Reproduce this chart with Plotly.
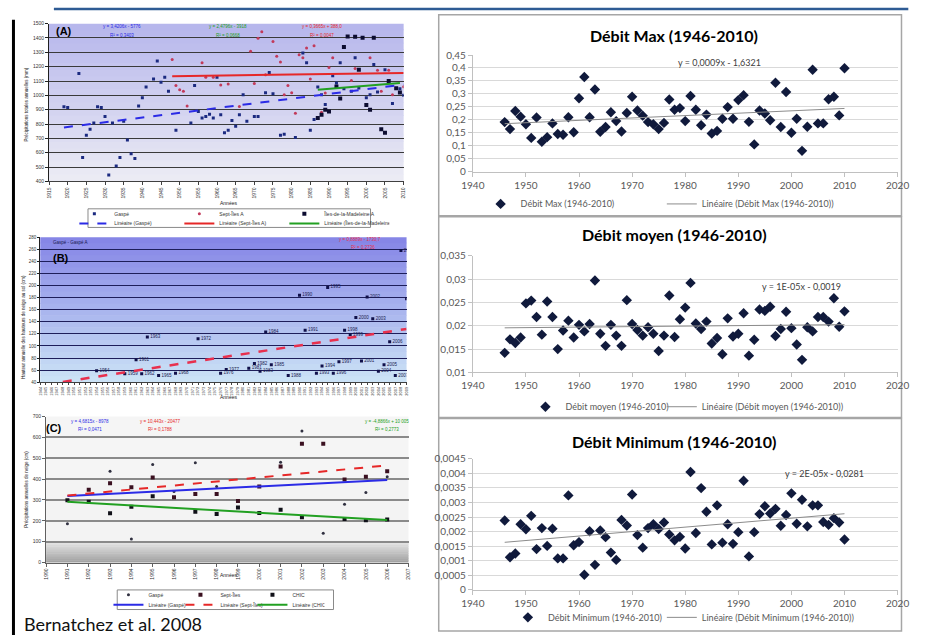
import numpy as np
import plotly.graph_objects as go

W, H = 932, 641
FONT = "Lato"
SMALL = "Liberation Sans"

# ---------------- right-hand charts (débits 1946-2010) ----------------
years = list(range(1946, 2011))
debit_max = [0.191, 0.164, 0.234, 0.212, 0.183, 0.130, 0.209, 0.115, 0.133, 0.186,
             0.145, 0.142, 0.210, 0.152, 0.283, 0.365, 0.210, 0.317, 0.154, 0.172,
             0.229, 0.195, 0.155, 0.226, 0.289, 0.236, 0.216, 0.191, 0.183, 0.164,
             0.188, 0.278, 0.239, 0.245, 0.195, 0.292, 0.239, 0.179, 0.220, 0.147,
             0.157, 0.204, 0.249, 0.204, 0.276, 0.295, 0.192, 0.105, 0.236, 0.224,
             0.198, 0.343, 0.172, 0.307, 0.150, 0.204, 0.080, 0.173, 0.393, 0.186,
             0.186, 0.279, 0.289, 0.217, 0.399]
debit_moyen = [0.0142, 0.0171, 0.0163, 0.0175, 0.0248, 0.0254, 0.0219, 0.0181, 0.0252, 0.0219,
               0.0150, 0.0190, 0.0211, 0.0175, 0.0202, 0.0188, 0.0204, 0.0297, 0.0183, 0.0157,
               0.0202, 0.0179, 0.0157, 0.0255, 0.0204, 0.0191, 0.0179, 0.0197, 0.0183, 0.0146,
               0.0179, 0.0265, 0.0176, 0.0214, 0.0239, 0.0292, 0.0205, 0.0193, 0.0209, 0.0162,
               0.0174, 0.0139, 0.0216, 0.0177, 0.0183, 0.0227, 0.0136, 0.0170, 0.0235, 0.0232,
               0.0241, 0.0178, 0.0193, 0.0230, 0.0195, 0.0160, 0.0127, 0.0197, 0.0188, 0.0219,
               0.0219, 0.0209, 0.0259, 0.0198, 0.0231]
debit_min = [0.00238, 0.00112, 0.00125, 0.00225, 0.00208, 0.00254, 0.00140, 0.00212, 0.00151, 0.00210,
             0.00108, 0.00108, 0.00324, 0.00153, 0.00164, 0.00052, 0.00201, 0.00086, 0.00204, 0.00181,
             0.00128, 0.00103, 0.00240, 0.00221, 0.00327, 0.00188, 0.00145, 0.00212, 0.00225, 0.00209,
             0.00231, 0.00190, 0.00170, 0.00182, 0.00142, 0.00404, 0.00195, 0.00349, 0.00268, 0.00156,
             0.00290, 0.00162, 0.00225, 0.00158, 0.00198, 0.00374, 0.00115, 0.00198, 0.00260, 0.00287,
             0.00262, 0.00278, 0.00220, 0.00257, 0.00331, 0.00227, 0.00309, 0.00218, 0.00290, 0.00290,
             0.00233, 0.00223, 0.00246, 0.00231, 0.00173]

x_ticks_right = [1940, 1950, 1960, 1970, 1980, 1990, 2000, 2010, 2020]
max_ticks = [0, 0.05, 0.1, 0.15, 0.2, 0.25, 0.3, 0.35, 0.4, 0.45]
max_labels = ["0", "0,05", "0,1", "0,15", "0,2", "0,25", "0,3", "0,35", "0,4", "0,45"]
moy_ticks = [0.01, 0.015, 0.02, 0.025, 0.03, 0.035]
moy_labels = ["0,01", "0,015", "0,02", "0,025", "0,03", "0,035"]
min_ticks = [0, 0.0005, 0.001, 0.0015, 0.002, 0.0025, 0.003, 0.0035, 0.004, 0.0045]
min_labels = ["0", "0,0005", "0,001", "0,0015", "0,002", "0,0025", "0,003", "0,0035", "0,004", "0,0045"]

titles_right = ["Débit Max (1946-2010)", "Débit moyen (1946-2010)", "Débit Minimum (1946-2010)"]
equations_right = ["y = 0,0009x - 1,6321", "y = 1E-05x - 0,0019", "y = 2E-05x - 0,0281"]

# ---------------- (A) annual precipitation ----------------
a_gaspe_years = [1919, 1920, 1923, 1924, 1925, 1926, 1927, 1928, 1929, 1930, 1931, 1932, 1933, 1934,
                 1935, 1936, 1937, 1938, 1939, 1940, 1941, 1943, 1944, 1945, 1946, 1947, 1949, 1953,
                 1954, 1955, 1956, 1957, 1958, 1959, 1960, 1961, 1962, 1963, 1964, 1965, 1966, 1967,
                 1968, 1970, 1971, 1973, 1974, 1975, 1977, 1978, 1981, 1983, 1984, 1985, 1986, 1987,
                 1988, 1989, 1991, 1992, 1993, 1994, 1996, 1997, 1998, 2000, 2001, 2002, 2003, 2005,
                 2007, 2009, 2010]
a_gaspe_vals = [921, 915, 1153, 566, 722, 763, 808, 921, 915, 853, 445, 808, 507, 566,
                820, 688, 593, 559, 926, 983, 1058, 1114, 1239, 1092, 1126, 1028, 756, 808,
                1069, 888, 842, 853, 869, 842, 1126, 865, 740, 756, 824, 785, 865, 1005,
                820, 853, 853, 1019, 1160, 1012, 722, 729, 706, 1296, 1228, 756, 831, 1058,
                1005, 937, 1137, 1087, 1228, 1046, 1028, 1262, 1051, 983, 1005, 1216, 1024, 1178,
                944, 1046, 1001]
a_sept_years = [1948, 1949, 1950, 1951, 1952, 1956, 1957, 1959, 1961, 1963, 1966, 1969, 1970, 1971,
                1972, 1973, 1975, 1976, 1977, 1978, 1979, 1980, 1981, 1982, 1983, 1984, 1985, 1986,
                1988, 1989, 1990, 1991, 1996, 1997, 2001, 2003, 2004, 2006, 2007, 2010]
a_sept_vals = [1250, 1069, 1039, 1028, 926, 1228, 1126, 1126, 1073, 1080, 922, 1307, 1082, 1398,
               1443, 1144, 1375, 1273, 1232, 1005, 1069, 1019, 876, 1284, 1262, 1330, 1114, 1346,
               883, 1017, 1194, 1262, 1103, 1187, 1262, 1175, 1028, 1175, 1005, 1060]
a_madel_years = [1987, 1988, 1989, 1990, 1992, 1993, 1994, 1995, 1997, 1998, 1999, 2000, 2001, 2002,
                 2004, 2005, 2006, 2008, 2009]
a_madel_vals = [842, 865, 899, 888, 1062, 978, 1337, 1411, 1409, 1178, 1402, 933, 899, 1402,
                763, 740, 1100, 1050, 1020]
a_x_ticks = list(range(1915, 2011, 5))
a_y_ticks = list(range(400, 1501, 100))
a_names = ["Gaspé", "Sept-Îles A", "Îles-de-la-Madeleine A"]
a_equations = [("y = 3,4206x - 5776", "R² = 0,3403"), ("y = 2,4796x - 3918", "R² = 0,0668"),
               ("y = 0,3665x + 388,0", "R² = 0,0047")]

# ---------------- (B) snow depth, Gaspé ----------------
b_years = [1954, 1959, 1961, 1962, 1963, 1965, 1968, 1972, 1976, 1977, 1981, 1982, 1983, 1984, 1985,
           1988, 1990, 1991, 1993, 1994, 1995, 1996, 1997, 1998, 1999, 2000, 2001, 2002, 2003, 2004,
           2005, 2006, 2007, 2008, 2009]
b_vals = [59, 54, 77, 54, 115, 51, 55, 112, 55, 61, 63, 71, 58, 123, 69,
          51, 184, 126, 55, 67, 197, 55, 74, 126, 119, 147, 75, 181, 145, 58,
          69, 107, 51, 258, 178]
b_trend_span = [1948, 2009]
b_x_ticks = list(range(1944, 2010))
b_y_ticks = list(range(40, 281, 20))

# ---------------- (C) snowfall ----------------
c_years = list(range(1991, 2007))
c_gaspe = [186, None, 437, 113, 470, 341, 478, 364, None, None, 481, 631, 140, 279, 336, 411]
c_sept = [None, 349, 380, 361, 408, 313, 329, 329, 295, 364, 460, 569, 569, 398, 411, 437]
c_chic = [298, 291, 236, 267, 318, None, 243, 233, 264, 237, 253, 217, None, 209, 202, 206]
c_x_ticks = list(range(1990, 2008))
c_y_ticks = list(range(0, 701, 100))
c_names = ["Gaspé", "Sept-Îles", "CHIC"]
c_equations = [("y = 4,6815x - 8978", "R² = 0,0471"), ("y = 10,443x - 20477", "R² = 0,1788"),
               ("y = -4,8866x + 10 005", "R² = 0,2773")]


# ---------------- helpers ----------------
def xd(l, r):
    return [l / W, r / W]


def yd(top, bottom):
    return [1 - bottom / H, 1 - top / H]


def fit(xs, ys, span=None):
    pts = [(a, b) for a, b in zip(xs, ys) if b is not None]
    xa = np.array([p[0] for p in pts], float)
    ya = np.array([p[1] for p in pts], float)
    k, c = np.polyfit(xa, ya, 1)
    sx = span if span else [xa.min(), xa.max()]
    return list(sx), [k * v + c for v in sx]


def ann(text, x, y, size, color="#000", bold=False, xanchor="center", yanchor="middle",
        angle=0, family=FONT):
    return dict(text=f"<b>{text}</b>" if bold else text, x=x / W, y=1 - y / H,
                xref="paper", yref="paper", showarrow=False, xanchor=xanchor, yanchor=yanchor,
                textangle=angle, font=dict(size=size, color=color, family=family))


def rgb(c):
    return "rgb(%d,%d,%d)" % tuple(int(round(v)) for v in c)


def gradient(n_ax, top, bot, f_from=0.0, f_to=1.0, steps=24):
    s = "" if n_ax == 1 else str(n_ax)
    out = []
    for i in range(steps):
        f0 = f_from + (f_to - f_from) * i / steps
        f1 = f_from + (f_to - f_from) * (i + 1) / steps
        t = (i + 0.5) / steps
        col = [bot[j] + (top[j] - bot[j]) * t for j in range(3)]
        out.append(dict(type="rect", xref=f"x{s} domain", yref=f"y{s} domain", x0=0, x1=1,
                        y0=f0, y1=min(f1 + 0.004, f_to), fillcolor=rgb(col), line=dict(width=0),
                        layer="below"))
    return out


def small_legend(x, y, entrywidth=None, size=9, family=FONT, color="#595959"):
    d = dict(x=x / W, y=1 - y / H, xanchor="left", yanchor="middle", orientation="h",
             font=dict(family=family, size=size, color=color), bgcolor="rgba(0,0,0,0)")
    if entrywidth:
        d.update(entrywidth=entrywidth, entrywidthmode="pixels", itemwidth=30)
    return d


fig = go.Figure()
layout_axes = {}
shapes = []
annotations = []

# ---------------- right charts ----------------
right_specs = [
    (4, debit_max, max_ticks, max_labels, [0, 0.45], (49, 168), "legend", "legend8"),
    (5, debit_moyen, moy_ticks, moy_labels, [0.01, 0.035], (254, 373), "legend2", "legend9"),
    (6, debit_min, min_ticks, min_labels, [0, 0.0045], (461, 595), "legend3", "legend10"),
]
frames = [(8, 213), (214, 419), (420, 637)]
title_y = [29, 232, 443]
eq_pos = [(726, 57), (810, 285), (834, 476)]
legend_pos = [(481, 201), (527, 408), (509, 623)]
for idx, (n, vals, tv, tt, yr, (yt, yb), lg_m, lg_l) in enumerate(right_specs):
    s = str(n)
    name = titles_right[idx]
    fig.add_trace(go.Scatter(x=years, y=vals, mode="markers", name=name, xaxis="x" + s, yaxis="y" + s,
                             marker=dict(symbol="diamond", size=8, color="#101a3c"), legend=lg_m,
                             hoverinfo="skip"))
    tx, ty = fit(years, vals)
    fig.add_trace(go.Scatter(x=tx, y=ty, mode="lines", name=f"Linéaire ({name})", xaxis="x" + s,
                             yaxis="y" + s, line=dict(color="#8c8c8c", width=1), legend=lg_l,
                             hoverinfo="skip"))
    layout_axes["xaxis" + s] = dict(domain=xd(473, 909), range=[1940, 2020], anchor="y" + s,
                                    tickvals=x_ticks_right, ticktext=[str(v) for v in x_ticks_right],
                                    showgrid=False, zeroline=False, showline=True, linecolor="#c0c0c0",
                                    ticks="outside", ticklen=4, tickcolor="#c0c0c0",
                                    tickfont=dict(family=FONT, size=10, color="#595959"))
    layout_axes["yaxis" + s] = dict(domain=yd(yt, yb), range=yr, anchor="x" + s, tickvals=tv, ticktext=tt,
                                    showgrid=True, gridcolor="#d9d9d9", gridwidth=1, zeroline=False,
                                    showline=True, linecolor="#c0c0c0", ticks="outside", ticklen=4,
                                    tickcolor="#c0c0c0",
                                    tickfont=dict(family=FONT, size=10, color="#595959"))
    f0, f1 = frames[idx]
    shapes.append(dict(type="rect", xref="paper", yref="paper", x0=438 / W, x1=913 / W,
                       y0=1 - f1 / H, y1=1 - f0 / H, line=dict(color="#a6a6a6", width=1.5),
                       fillcolor="rgba(0,0,0,0)", layer="below"))
    annotations.append(ann(name, 680, title_y[idx], 16, "#000", bold=True))
    ex, ey = eq_pos[idx]
    annotations.append(ann(equations_right[idx], ex, ey, 9, "#404040"))
    lx, ly = legend_pos[idx]
    layout_axes[lg_m] = small_legend(lx, ly)
    layout_axes[lg_l] = small_legend(667, ly)

# ---------------- chart A ----------------
a_colors = ["#1b2a80", "#c23a5a", "#0c0c30"]
a_syms = ["square", "circle", "square"]
a_sizes = [3, 3, 4]
a_trend_colors = ["#2b2be6", "#e62828", "#22a022"]
a_data = [(a_gaspe_years, a_gaspe_vals), (a_sept_years, a_sept_vals), (a_madel_years, a_madel_vals)]
for i, (xs, ys) in enumerate(a_data):
    fig.add_trace(go.Scatter(x=xs, y=ys, mode="markers", name=a_names[i], xaxis="x", yaxis="y",
                             marker=dict(symbol=a_syms[i], size=a_sizes[i], color=a_colors[i]),
                             legend="legend4", hoverinfo="skip"))
for i, (xs, ys) in enumerate(a_data):
    tx, ty = fit(xs, ys)
    fig.add_trace(go.Scatter(x=tx, y=ty, mode="lines", name=f"Linéaire ({a_names[i]})", xaxis="x",
                             yaxis="y", line=dict(color=a_trend_colors[i], width=2,
                                                  dash="dash" if i == 0 else "solid"),
                             legend="legend5", hoverinfo="skip"))
layout_axes["xaxis"] = dict(domain=xd(38, 402), range=[1915, 2010], anchor="y", tickvals=a_x_ticks,
                            ticktext=[str(v) for v in a_x_ticks], tickangle=-90, showgrid=False,
                            zeroline=False, showline=True, linecolor="#404040", ticks="outside",
                            ticklen=3, tickcolor="#404040",
                            tickfont=dict(family=SMALL, size=5, color="#333"))
layout_axes["yaxis"] = dict(domain=yd(17, 178), range=[400, 1500], anchor="x", tickvals=a_y_ticks,
                            ticktext=[str(v) for v in a_y_ticks], showgrid=True, gridcolor="#3a3a3a",
                            gridwidth=1, zeroline=False, showline=True, linecolor="#202020",
                            ticks="outside", ticklen=3, tickcolor="#202020",
                            tickfont=dict(family=SMALL, size=5, color="#333"))
shapes += gradient(1, (182, 182, 236), (236, 236, 244))
annotations.append(ann("(A)", 53, 24, 11, "#000", bold=True, family=SMALL))
eq_x = [113, 222, 318]
eq_col = ["#2b2be6", "#22a022", "#e62828"]
for i, (l1, l2) in enumerate(a_equations):
    annotations.append(ann(l1, eq_x[i], 20, 4.5, eq_col[i], family=SMALL))
    annotations.append(ann(l2, eq_x[i], 29, 4.5, eq_col[i], family=SMALL))
annotations.append(ann("Précipitations totales annuelles (mm)", 15, 100, 4.5, "#222", angle=-90, family=SMALL))
annotations.append(ann("Années", 222, 200, 5, "#222", family=SMALL))
shapes.append(dict(type="rect", xref="paper", yref="paper", x0=78 / W, x1=368 / W, y0=1 - 225 / H,
                   y1=1 - 206 / H, line=dict(color="#8a8a8a", width=1), fillcolor="white", layer="below"))
layout_axes["legend4"] = small_legend(64, 211, 60, 5, SMALL, "#333")
layout_axes["legend5"] = small_legend(64, 221, 60, 5, SMALL, "#333")

# ---------------- chart B ----------------
fig.add_trace(go.Scatter(x=b_years, y=b_vals, mode="markers+text", text=[str(v) for v in b_years],
                         textposition="middle right", textfont=dict(family=SMALL, size=4.5, color="#1a1a50"),
                         xaxis="x2", yaxis="y2", marker=dict(symbol="square", size=3, color="#10104a"),
                         showlegend=False, hoverinfo="skip"))
tx, ty = fit(b_years, b_vals, b_trend_span)
fig.add_trace(go.Scatter(x=tx, y=ty, mode="lines", xaxis="x2", yaxis="y2", showlegend=False,
                         line=dict(color="#e8304e", width=2.5, dash="dash"), hoverinfo="skip"))
layout_axes["xaxis2"] = dict(domain=xd(29, 405), range=[1944, 2009], anchor="y2", tickvals=b_x_ticks,
                             ticktext=[str(v) for v in b_x_ticks], tickangle=-90, showgrid=False,
                             zeroline=False, showline=True, linecolor="#404040", ticks="outside",
                             ticklen=2, tickcolor="#404040",
                             tickfont=dict(family=SMALL, size=4, color="#333"))
layout_axes["yaxis2"] = dict(domain=yd(235, 383), range=[40, 280], anchor="x2", tickvals=b_y_ticks,
                             ticktext=[str(v) for v in b_y_ticks], showgrid=True, gridcolor="#1e1e5a",
                             gridwidth=1, zeroline=False, showline=True, linecolor="#202020",
                             ticks="outside", ticklen=2, tickcolor="#202020",
                             tickfont=dict(family=SMALL, size=4.5, color="#333"))
shapes += gradient(2, (132, 132, 230), (205, 228, 246))
annotations.append(ann("Gaspé - Gaspé A", 40, 240, 4.5, "#1a1a50", xanchor="left", family=SMALL))
annotations.append(ann("(B)", 50, 256, 11, "#000", bold=True, family=SMALL))
annotations.append(ann("y = 0,8889x - 1730,7", 357, 237, 4.5, "#e8304e", family=SMALL))
annotations.append(ann("R² = 0,2736", 360, 245, 4.5, "#e8304e", family=SMALL))
annotations.append(ann("Hauteur annuelle des hauteurs de neige au sol (cm)", 12, 327, 4.5, "#222",
                       angle=-90, family=SMALL))
annotations.append(ann("Années", 222, 398, 5, "#222", family=SMALL))

# ---------------- chart C ----------------
c_series = [c_gaspe, c_sept, c_chic]
c_colors = ["#303040", "#3a1020", "#101018"]
c_syms = ["circle", "square", "square"]
c_sizes = [3, 4, 4]
c_trend_colors = ["#2b2be6", "#e62828", "#22a022"]
for i, ys in enumerate(c_series):
    fig.add_trace(go.Scatter(x=c_years, y=ys, mode="markers", name=c_names[i], xaxis="x3", yaxis="y3",
                             marker=dict(symbol=c_syms[i], size=c_sizes[i], color=c_colors[i]),
                             legend="legend6", hoverinfo="skip"))
for i, ys in enumerate(c_series):
    tx, ty = fit(c_years, ys, [c_years[0], c_years[-1]])
    fig.add_trace(go.Scatter(x=tx, y=ty, mode="lines", name=f"Linéaire ({c_names[i]})", xaxis="x3",
                             yaxis="y3", line=dict(color=c_trend_colors[i], width=2,
                                                   dash="dash" if i == 1 else "solid"),
                             legend="legend7", hoverinfo="skip"))
layout_axes["xaxis3"] = dict(domain=xd(35, 407), range=[1990, 2007], anchor="y3", tickvals=c_x_ticks,
                             ticktext=[str(v) for v in c_x_ticks], tickangle=-90, showgrid=False,
                             zeroline=False, showline=True, linecolor="#606060", ticks="outside",
                             ticklen=3, tickcolor="#606060",
                             tickfont=dict(family=SMALL, size=5, color="#333"))
layout_axes["yaxis3"] = dict(domain=yd(418, 567), range=[0, 700], anchor="x3", tickvals=c_y_ticks,
                             ticktext=[str(v) for v in c_y_ticks], showgrid=True, gridcolor="#8a8a8a",
                             gridwidth=1.5, zeroline=False, showline=True, linecolor="#606060",
                             ticks="outside", ticklen=3, tickcolor="#606060",
                             tickfont=dict(family=SMALL, size=5, color="#333"))
shapes += gradient(3, (246, 246, 246), (242, 242, 242), 100 / 700, 1.0, steps=2)
shapes += gradient(3, (232, 232, 232), (160, 160, 160), 0.0, 100 / 700, steps=12)
annotations.append(ann("(C)", 43, 430, 11, "#000", bold=True, family=SMALL))
c_eq_x = [80, 152, 385]
for i, (l1, l2) in enumerate(c_equations):
    annotations.append(ann(l1, c_eq_x[i], 423, 4.5, c_trend_colors[i], family=SMALL))
    annotations.append(ann(l2, c_eq_x[i], 431, 4.5, c_trend_colors[i], family=SMALL))
annotations.append(ann("Précipitations annuelles de neige (cm)", 14, 492, 4.5, "#222", angle=-90, family=SMALL))
annotations.append(ann("Années", 222, 580, 5, "#222", family=SMALL))
shapes.append(dict(type="rect", xref="paper", yref="paper", x0=108 / W, x1=330 / W, y0=1 - 615 / H,
                   y1=1 - 595 / H, line=dict(color="#8a8a8a", width=1), fillcolor="white", layer="below"))
layout_axes["legend6"] = small_legend(99, 600, 27, 5, SMALL, "#333")
layout_axes["legend7"] = small_legend(99, 610, 27, 5, SMALL, "#333")

# ---------------- page decorations ----------------
shapes.append(dict(type="line", xref="paper", yref="paper", x0=43 / W, x1=920 / W, y0=1 - 2 / H,
                   y1=1 - 2 / H, line=dict(color="#2e5b94", width=2.5)))
shapes.append(dict(type="line", xref="paper", yref="paper", x0=1.5 / W, x1=1.5 / W, y0=0,
                   y1=1 - 13 / H, line=dict(color="#000", width=3)))
annotations.append(ann("Bernatchez et al. 2008", 10, 630, 18, "#111", xanchor="left"))

fig.update_layout(width=W, height=H, margin=dict(l=0, r=0, t=0, b=0), paper_bgcolor="white",
                  plot_bgcolor="white", showlegend=True, shapes=shapes, annotations=annotations,
                  **layout_axes)
fig.write_html("out.html")
